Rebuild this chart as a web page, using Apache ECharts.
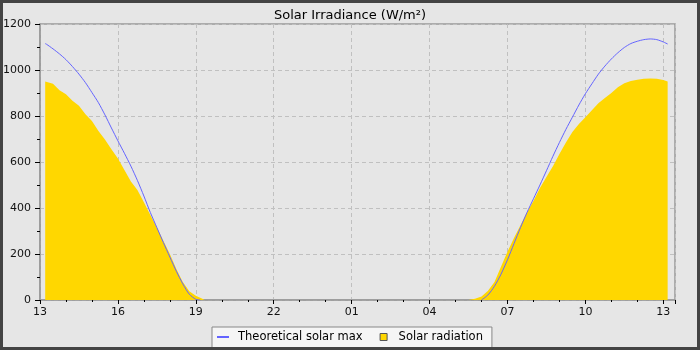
<!DOCTYPE html>
<html>
<head>
<meta charset="utf-8">
<script src="https://cdn.jsdelivr.net/npm/echarts@6/dist/echarts.min.js"></script>
<style>
  html, body { margin: 0; padding: 0; background: #e6e6e6; }
  #chart { width: 700px; height: 350px; }
</style>
</head>
<body>
<div id="chart"></div>
<script>
// ---- Data (times, 13:00 day 1 → 13:10 day 2) ----
const xTickLabels = ['13', '16', '19', '22', '01', '04', '07', '10', '13'];

const maxTimes = [
  '13:12','13:15','13:30','13:45','14:00','14:15','14:30','14:45','15:00','15:15','15:30','15:45',
  '16:00','16:15','16:30','16:45','17:00','17:15','17:30','17:45','18:00','18:15','18:30','18:45',
  '19:00','19:10','00:00',
  '06:00','06:15','06:30','06:45','07:00','07:15','07:30','07:45','08:00','08:15','08:30','08:45',
  '09:00','09:15','09:30','09:45','10:00','10:15','10:30','10:45','11:00','11:15','11:30','11:45',
  '12:00','12:15','12:30','12:45','13:00','13:10'
];
const maxValues = [
  1115,1112,1092,1070,1045,1015,982,945,902,858,805,748,
  692,638,582,520,452,380,315,250,187,125,70,25,
  3,0,null,
  0,22,60,112,175,245,315,380,440,500,562,625,
  685,742,795,848,897,940,982,1017,1048,1075,1098,1115,
  1125,1132,1135,1132,1122,1113
];

const radTimes = [
  '13:12','13:15','13:30','13:45','14:00','14:15','14:30','14:45','15:00','15:15','15:30','15:45',
  '16:00','16:15','16:30','16:45','17:00','17:15','17:30','17:45','18:00','18:15','18:30','18:45',
  '19:00','19:15','19:20',
  '05:30','05:45','06:00','06:15','06:30','06:45','07:00','07:15','07:30','07:45','08:00','08:15',
  '08:30','08:45','09:00','09:15','09:30','09:45','10:00','10:15','10:30','10:45','11:00','11:15',
  '11:30','11:45','12:00','12:15','12:30','12:45','13:00','13:10'
];
const radValues = [
  950,948,940,912,895,866,845,808,778,735,698,655,
  615,565,515,478,425,370,315,258,200,135,78,38,
  18,5,0,
  0,5,15,40,78,145,210,270,325,382,430,487,
  535,582,635,685,730,765,795,825,855,878,900,925,
  942,952,958,962,963,962,957,950
];

// hours elapsed since 13:00 on day 1; a time earlier than the previous one means the next day
function toHours(times) {
  const out = [];
  let dayOffset = 0, prev = -1;
  for (const t of times) {
    const [h, m] = t.split(':').map(Number);
    let v = h + m / 60 - 13;
    if (v < 0) v += 24;
    v += dayOffset;
    if (v < prev) { dayOffset += 24; v += 24; }
    out.push(v);
    prev = v;
  }
  return out;
}
function pairs(times, values) {
  const xs = toHours(times);
  return xs.map((x, i) => [x, values[i] === null ? '-' : values[i]]);
}

const chart = echarts.init(document.getElementById('chart'), null, { renderer: 'canvas' });
const font = 'DejaVu Sans';

chart.setOption({
  backgroundColor: '#e6e6e6',
  animation: false,
  textStyle: { fontFamily: font },
  title: {
    text: 'Solar Irradiance (W/m²)',
    left: 'center',
    top: 4,
    textStyle: { fontFamily: font, fontSize: 13, fontWeight: 'normal', color: '#000' }
  },
  graphic: [{
    type: 'rect',
    shape: { x: 1.5, y: 1.5, width: 697, height: 347 },
    style: { fill: null, stroke: '#444', lineWidth: 3 },
    silent: true, z: 100
  }],
  grid: {
    left: 40, right: 25, top: 24, bottom: 50,
    containLabel: false,
    outerBoundsMode: 'none',
    show: true, borderColor: '#999', borderWidth: 1.5, backgroundColor: 'transparent'
  },
  legend: {
    left: 212, top: 327,
    backgroundColor: '#f5f5f5',
    borderColor: '#888', borderWidth: 1, borderRadius: 0,
    padding: [4, 9, 6, 5],
    itemWidth: 12, itemHeight: 7, itemGap: 17,
    symbolKeepAspect: true,
    textStyle: { fontFamily: font, fontSize: 11.5, color: '#000', padding: [0, 0, 0, 4] },
    data: [
      { name: 'Theoretical solar max', icon: 'path://M0,0h12v2h-12z',
        itemStyle: { color: '#6464ff', borderWidth: 0 } },
      { name: 'Solar radiation', icon: 'path://M0,0h10v10h-10z',
        itemStyle: { color: '#ffd700', borderColor: '#555', borderWidth: 1 } }
    ]
  },
  xAxis: {
    type: 'value',
    min: 0, max: 24.45, interval: 3,
    axisLine: { show: true, lineStyle: { color: '#999', width: 1.5 } },
    axisTick: { show: true, length: 4, lineStyle: { color: '#000' } },
    minorTick: { show: true, splitNumber: 3, length: 2, lineStyle: { color: '#000' } },
    axisLabel: {
      fontFamily: font, fontSize: 11, color: '#111', margin: 7,
      showMaxLabel: false,
      formatter: function (v) {
        const i = Math.round(v / 3);
        if (Math.abs(v - i * 3) > 1e-6) return '';
        return xTickLabels[i] || '';
      }
    },
    splitLine: { show: true, lineStyle: { color: '#c0c0c0', type: [4, 3], width: 1 } }
  },
  yAxis: {
    type: 'value',
    min: 0, max: 1200, interval: 200,
    axisLine: { show: true, lineStyle: { color: '#999', width: 1.5 } },
    axisTick: { show: true, length: 5, lineStyle: { color: '#000' } },
    minorTick: { show: true, splitNumber: 2, length: 3, lineStyle: { color: '#000' } },
    axisLabel: { fontFamily: font, fontSize: 11, color: '#111', margin: 9,
      formatter: function (v) { return String(v); } },
    splitLine: { show: true, lineStyle: { color: '#c0c0c0', type: [4, 3], width: 1 } }
  },
  series: [
    {
      name: 'Solar radiation',
      type: 'line',
      symbol: 'none',
      data: pairs(radTimes, radValues),
      lineStyle: { width: 0, color: '#ffd700' },
      itemStyle: { color: '#ffd700' },
      areaStyle: { color: '#ffd700', opacity: 1 },
      z: 2
    },
    {
      name: 'Theoretical solar max',
      type: 'line',
      symbol: 'none',
      smooth: 0.25,
      connectNulls: false,
      data: pairs(maxTimes, maxValues),
      lineStyle: { width: 1, color: '#6464ff' },
      itemStyle: { color: '#6464ff' },
      z: 3
    }
  ]
});
</script>
</body>
</html>
